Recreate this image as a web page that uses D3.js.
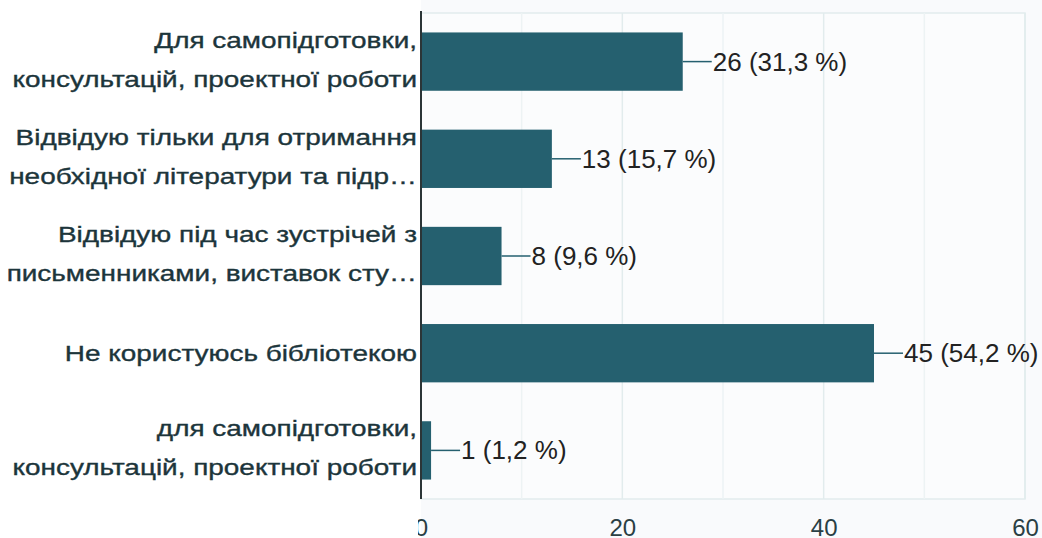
<!DOCTYPE html>
<html><head><meta charset="utf-8">
<script src="https://cdn.jsdelivr.net/npm/d3@7"></script>
<style>html,body{margin:0;padding:0;background:#fff;overflow:hidden}</style>
</head><body>
<svg id="c" width="1042" height="538"></svg>
<script>
const categories = [
  ["Для самопідготовки,", "консультацій, проектної роботи"],
  ["Відвідую тільки для отримання", "необхідної літератури та підр…"],
  ["Відвідую під час зустрічей з", "письменниками, виставок сту…"],
  ["Не користуюсь бібліотекою"],
  ["для самопідготовки,", "консультацій, проектної роботи"]
];
const counts = [26, 13, 8, 45, 1];
const percents = ["31,3", "15,7", "9,6", "54,2", "1,2"];
const tickValues = [0, 20, 40, 60];
const minorTicks = [10, 30, 50];

const svg = d3.select("#c");
const x = d3.scaleLinear().domain([0, 60]).range([421, 1025]);
const y = d3.scaleBand().domain(d3.range(categories.length)).range([13, 499]).paddingInner(0.4).paddingOuter(0.2);

svg.append("rect").attr("x", 421).attr("y", 0).attr("width", 621).attr("height", 538).attr("fill", "#f9fafc");
svg.append("rect").attr("x", 421).attr("y", 13).attr("width", x(60) - 421).attr("height", 486)
  .attr("fill", "#fbfcfd").attr("stroke", "#e2eced").attr("stroke-width", 1.5);

svg.append("g").selectAll("line").data(minorTicks.concat(tickValues.slice(1))).join("line")
  .attr("x1", d => x(d)).attr("x2", d => x(d)).attr("y1", 13).attr("y2", 499)
  .attr("stroke", d => d % 20 === 0 ? "#e2eced" : "#edf3f4").attr("stroke-width", 1.5);

const xAxis = svg.append("g").attr("transform", "translate(0,536)")
  .call(d3.axisBottom(x).tickValues(tickValues).tickSize(0).tickPadding(0));
xAxis.select(".domain").remove();
xAxis.selectAll("text").attr("dy", 0).attr("fill", "#2a3f44")
  .style("font-family", "Liberation Sans, Arial, sans-serif").style("font-size", "24px");

// white cover at bottom left (cropped original)
svg.append("rect").attr("x", 0).attr("y", 505).attr("width", 418).attr("height", 33).attr("fill", "#fff");

svg.append("g").selectAll("rect").data(counts).join("rect")
  .attr("x", x(0)).attr("y", (d, i) => y(i)).attr("width", d => x(d) - x(0)).attr("height", y.bandwidth())
  .attr("fill", "#25606f");

svg.append("line").attr("x1", 421).attr("x2", 421).attr("y1", 11).attr("y2", 499)
  .attr("stroke", "#2b3537").attr("stroke-width", 2);

const vl = svg.append("g").selectAll("g").data(counts).join("g")
  .attr("transform", (d, i) => `translate(${x(d)},${y(i) + y.bandwidth() / 2})`);
vl.append("line").attr("x1", 0).attr("x2", 29).attr("y1", 0).attr("y2", 0).attr("stroke", "#25606f").attr("stroke-width", 1.5);
vl.append("text").attr("x", 30).attr("y", 9).attr("fill", "#222")
  .style("font-family", "Liberation Sans, Arial, sans-serif").style("font-size", "26px")
  .text((d, i) => `${d} (${percents[i]} %)`);

const cl = svg.append("g").attr("transform", "translate(417,0) scale(1.27,1)")
  .selectAll("text").data(categories).join("text")
  .attr("text-anchor", "end").attr("fill", "#1c353b")
  .attr("stroke", "#1c353b").attr("stroke-width", 0.35)
  .style("font-family", "Liberation Sans, Arial, sans-serif").style("font-size", "22px");
cl.each(function (lines, i) {
  const cy = y(i) + y.bandwidth() / 2;
  const t = d3.select(this);
  const offs = lines.length === 2 ? [-14, 25] : [8];
  lines.forEach((s, k) => t.append("tspan").attr("x", 0).attr("y", cy + offs[k]).text(s));
});
</script>
</body></html>
